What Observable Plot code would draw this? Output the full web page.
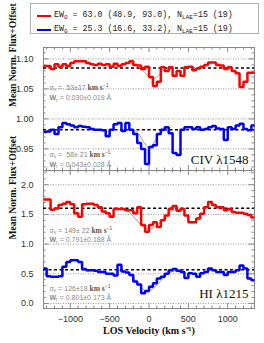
<!DOCTYPE html>
<html><head><meta charset="utf-8">
<script src="https://cdn.jsdelivr.net/npm/d3@7"></script>
<script src="https://cdn.jsdelivr.net/npm/@observablehq/plot@0.6"></script>
<style>
body{margin:0;background:#fff;}
#root{position:relative;width:264px;height:343px;overflow:hidden;background:#fff;}
#legend{position:absolute;left:30px;top:3px;width:227px;height:29px;border:1px solid #b0b0b0;font-family:"Liberation Mono",monospace;font-size:8.3px;color:#222;}
.lrow{position:absolute;left:0;height:12px;white-space:pre;}
.lline{position:absolute;left:6px;width:14px;height:2px;}
.ltxt{position:absolute;left:23px;top:0;line-height:12px;}
.ltxt sub{font-size:6px;vertical-align:-1.5px;line-height:0;}
.panel{position:absolute;left:0;}
</style></head><body><div id="root"><div id="legend"></div></div>
<script>
// ---- data ----
const velocity = [-1325,-1275,-1225,-1175,-1125,-1075,-1025,-975,-925,-875,-825,-775,-725,-675,-625,-575,-525,-475,-425,-375,-325,-275,-225,-175,-125,-75,-25,25,75,125,175,225,275,325,375,425,475,525,575,625,675,725,775,825,875,925,975,1025,1075,1125,1175,1225,1275,1325];
const civRed = [1.088,1.088,1.083,1.091,1.087,1.091,1.088,1.093,1.096,1.096,
 1.096,1.093,1.091,1.090,1.092,1.090,1.091,1.087,1.092,1.088,
 1.091,1.093,1.096,1.090,1.089,1.083,1.087,1.070,1.055,1.062,
 1.086,1.080,1.086,1.072,1.080,1.072,1.086,1.087,1.081,1.084,
 1.087,1.090,1.094,1.094,1.090,1.089,1.083,1.086,1.080,1.076,
 1.053,1.062,1.077,1.077];
const civBlue = [0.978,0.979,0.982,0.975,0.986,0.993,0.991,0.989,0.986,0.988,
 0.987,0.986,0.983,0.982,0.982,0.981,0.971,0.982,0.991,0.993,
 0.980,0.993,0.982,0.975,0.960,0.950,0.925,0.953,0.956,0.975,
 0.982,0.986,0.976,0.943,0.940,0.982,0.986,0.986,0.983,0.986,
 0.982,0.983,0.986,0.988,0.984,0.983,0.965,0.986,0.983,0.989,
 0.992,0.983,0.981,0.989];
const hiRed = [1.75,1.75,1.58,1.60,1.66,1.68,1.71,1.67,1.52,1.46,
 1.67,1.68,1.68,1.66,1.62,1.55,1.52,1.46,1.59,1.59,
 1.59,1.57,1.57,1.52,1.62,1.32,1.21,1.32,1.37,1.29,
 1.40,1.48,1.59,1.64,1.56,1.59,1.48,1.37,1.37,1.43,
 1.51,1.62,1.71,1.66,1.62,1.62,1.57,1.59,1.54,1.53,
 1.53,1.51,1.49,1.45];
const hiBlue = [0.59,0.46,0.45,0.45,0.46,0.62,0.70,0.73,0.73,0.70,
 0.58,0.56,0.56,0.55,0.53,0.53,0.50,0.50,0.47,0.65,
 0.54,0.52,0.48,0.37,0.32,0.17,0.21,0.28,0.34,0.42,
 0.45,0.50,0.56,0.58,0.55,0.53,0.43,0.51,0.50,0.45,
 0.51,0.53,0.59,0.56,0.53,0.53,0.48,0.53,0.53,0.56,
 0.64,0.59,0.42,0.39];
const civRedContinuum = 1.085, civBlueContinuum = 0.982;
const hiRedContinuum = 1.605, hiBlueContinuum = 0.567;
const civRedFitV = [-150,-75,0,50,100,175,250];
const civRedFit = [1.085,1.080,1.070,1.066,1.070,1.080,1.085];
const civBlueFitV = [-200,-130,-60,0,60,130,200];
const civBlueFit = [0.982,0.975,0.960,0.952,0.960,0.975,0.982];
const hiRedFitV = [-450,-300,-200,-100,0,100,200,300,450];
const hiRedFit = [1.605,1.57,1.47,1.32,1.25,1.31,1.45,1.56,1.60];
const hiBlueFitV = [-400,-300,-200,-100,-30,50,150,250,400];
const hiBlueFit = [0.567,0.53,0.43,0.27,0.21,0.25,0.38,0.51,0.56];
const legendColors = ["#ff0000","#0000ff"];
const legendLabels = ["EW<sub>0</sub> = 63.0 (48.9, 93.0), N<sub>LAE</sub>=15 (19)",
                      "EW<sub>0</sub> = 25.3 (16.6, 33.2), N<sub>LAE</sub>=15 (19)"];
const civNotes = ["σ_v =  53±17 km s^-1","W_r = 0.030±0.019 Å","σ_v =  58± 21 km s^-1","W_r = 0.043±0.028 Å"];
const hiNotes = ["σ_v = 149± 22 km s^-1","W_r = 0.791±0.188 Å","σ_v = 126±18 km s^-1","W_r = 0.801±0.173 Å"];
const lineLabels = ["CIV λ1548","HI λ1215"];
const yLabel = "Mean Norm. Flux+Offset";
const xLabel = "LOS Velocity (km s⁻¹)";
const civTicks = [0.95,1.00,1.05,1.10];
const civMinor = [0.92,0.93,0.94,0.96,0.97,0.98,0.99,1.01,1.02,1.03,1.04,1.06,1.07,1.08,1.09,1.11];
const hiTicks = [0,0.5,1,1.5,2];
const hiMinor = [0.1,0.2,0.3,0.4,0.6,0.7,0.8,0.9,1.1,1.2,1.3,1.4,1.6,1.7,1.8,1.9,2.1,2.2];
const velTicks = [-1000,-500,0,500,1000];
const velMinor = [-1300,-1200,-1100,-900,-800,-700,-600,-400,-300,-200,-100,100,200,300,400,600,700,800,900,1100,1200,1300];

// ---- legend ----
const legend = document.getElementById("legend");
legendLabels.forEach((t,i)=>{
  const row = document.createElement("div");
  row.className="lrow"; row.style.top = (i===0? 5 : 19)+"px"; row.style.width="100%";
  row.innerHTML = `<div class="lline" style="top:5.5px;background:${legendColors[i]}"></div><div class="ltxt">${t}</div>`;
  legend.appendChild(row);
});

const W = 264, ML = 43, MR = 10;
const innerW = W - ML - MR;
const rows = (vs, fs) => vs.map((v,i)=>({v, f: fs[i]}));

function richify(svg){
  d3.select(svg).selectAll("text").each(function(){
    const t = this.textContent;
    const m = t.match(/^(σ|W)_([a-z])(.*?)(?: km s\^(-1))?$/);
    if(!m) return;
    const el = d3.select(this);
    el.text(null);
    el.append("tspan").attr("font-weight", m[1]==="W"?"bold":null).text(m[1]);
    el.append("tspan").attr("font-size","5px").attr("dy","1.5").text(m[2]);
    el.append("tspan").attr("dy","-1.5").text(m[3]);
    if(m[4]){
      el.append("tspan").attr("font-weight","bold").attr("fill","#555").attr("font-family","Liberation Serif").attr("font-size","7.5px").text(" km s");
      el.append("tspan").attr("font-size","5px").attr("dy","-2.5").attr("fill","#555").text("−1");
    }
  });
}

function panel(o){
  const H = o.mt + o.innerH + o.mb;
  const noteMarks = o.notes.map((n,i)=>Plot.text([n],{frameAnchor:"top-left",dx:6,dy:o.noteDy[i],fill:"#888",fontSize:7,lineAnchor:"middle",fontFamily:"Liberation Sans"}));
  const marks = [
    Plot.gridY(o.ticks,{stroke:"#9a9a9a",strokeOpacity:1,strokeDasharray:"1,1.5"}),
    Plot.tickY(o.minor,{y:d=>d,stroke:"#888",insetRight:innerW-2.5}),
    Plot.tickY(o.minor,{y:d=>d,stroke:"#888",insetLeft:innerW-2.5}),
    Plot.tickY(o.ticks,{y:d=>d,stroke:"#888",insetRight:innerW-5}),
    Plot.tickY(o.ticks,{y:d=>d,stroke:"#888",insetLeft:innerW-5}),
    Plot.tickX(velMinor,{x:d=>d,stroke:"#888",insetBottom:o.innerH-2.5}),
    Plot.tickX(velMinor,{x:d=>d,stroke:"#888",insetTop:o.innerH-2.5}),
    Plot.tickX(velTicks,{x:d=>d,stroke:"#888",insetBottom:o.innerH-5}),
    Plot.tickX(velTicks,{x:d=>d,stroke:"#888",insetTop:o.innerH-5}),
    Plot.frame({stroke:"#888"}),
    Plot.line(rows(o.redFitV,o.redFit),{x:"v",y:"f",stroke:"#888",strokeWidth:0.8,curve:"monotone-x"}),
    Plot.line(rows(o.blueFitV,o.blueFit),{x:"v",y:"f",stroke:"#888",strokeWidth:0.8,curve:"monotone-x"}),
    Plot.ruleY([o.redCont],{stroke:"#000",strokeWidth:1.5,strokeDasharray:"3,2.5"}),
    Plot.ruleY([o.blueCont],{stroke:"#000",strokeWidth:1.5,strokeDasharray:"3,2.5"}),
    Plot.line(rows(velocity,o.red),{x:"v",y:"f",curve:"step",stroke:"#ff0000",strokeWidth:2.5,strokeLinejoin:"miter"}),
    Plot.line(rows(velocity,o.blue),{x:"v",y:"f",curve:"step",stroke:"#0000ff",strokeWidth:2.5,strokeLinejoin:"miter"}),
    Plot.axisY(o.ticks,{tickSize:0,tickPadding:10,tickFormat:o.fmt,fontSize:9,fill:"#333",label:null}),
    ...noteMarks,
    Plot.text([o.lineLabel],{frameAnchor:"bottom-right",dx:-6,dy:o.labelDy,textAnchor:"end",lineAnchor:"middle",fontFamily:"Liberation Serif",fontSize:13,fill:"#111"}),
    Plot.text([yLabel],{frameAnchor:"left",rotate:-90,dx:-31,dy:o.yLabelDy,fontFamily:"Liberation Serif",fontWeight:"bold",fontSize:9.6,fill:"#111"})
  ];
  if(o.showX){
    marks.push(Plot.axisX(velTicks,{tickSize:0,tickPadding:7.5,fontSize:9,fill:"#333",label:null,tickFormat:d3.format("d")}));
    marks.push(Plot.text([xLabel],{frameAnchor:"bottom",dy:25,fontFamily:"Liberation Serif",fontWeight:"bold",fontSize:10,fill:"#111"}));
  }
  const svg = Plot.plot({
    width:W, height:H, marginLeft:ML, marginRight:MR, marginTop:o.mt, marginBottom:o.mb,
    style:{fontFamily:"Liberation Sans",fontSize:"9px",background:"transparent",overflow:"visible"},
    x:{domain:[-1340,1340],axis:o.showX?undefined:null,label:null},
    y:{domain:o.domain,label:null},
    marks
  });
  richify(svg);
  svg.classList.add("panel");
  svg.style.top = o.top+"px";
  svg.style.position="absolute";
  document.getElementById("root").appendChild(svg);
}

panel({top:45, mt:2, innerH:123, mb:1, domain:[0.914,1.119], ticks:civTicks, minor:civMinor, fmt:d3.format(".2f"),
  red:civRed, blue:civBlue, redCont:civRedContinuum, blueCont:civBlueContinuum,
  redFitV:civRedFitV, redFit:civRedFit, blueFitV:civBlueFitV, blueFit:civBlueFit,
  notes:civNotes, noteDy:[40,50.5,107,117], lineLabel:lineLabels[0], labelDy:-11, yLabelDy:-2, showX:false});
panel({top:169, mt:1, innerH:138, mb:35, domain:[-0.085,2.24], ticks:hiTicks, minor:hiMinor, fmt:d3.format(".1f"),
  red:hiRed, blue:hiBlue, redCont:hiRedContinuum, blueCont:hiBlueContinuum,
  redFitV:hiRedFitV, redFit:hiRedFit, blueFitV:hiBlueFitV, blueFit:hiBlueFit,
  notes:hiNotes, noteDy:[60,69.3,118,127], lineLabel:lineLabels[1], labelDy:-15, yLabelDy:0, showX:true});
</script></body></html>
